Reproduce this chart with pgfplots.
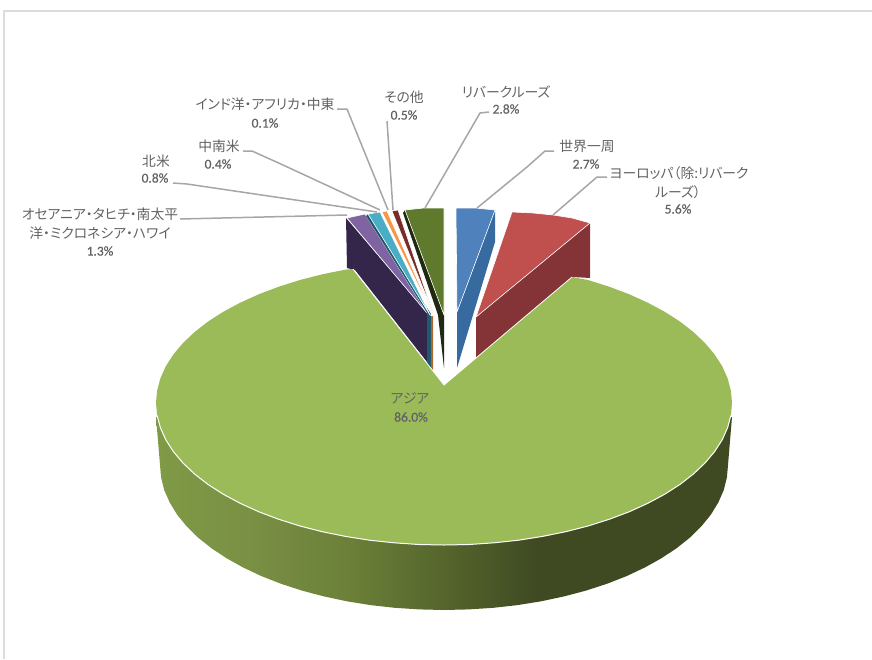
\documentclass[border=0pt]{standalone}
\usepackage{fontspec}
\usepackage{pgfplots}
\pgfplotsset{compat=1.18}
\newfontfamily\jp[RawFeature={+palt}]{Noto Sans CJK JP}
\newfontfamily\num[FakeBold=0.6]{Carlito}
\definecolor{txt}{HTML}{626262}
\definecolor{lead}{HTML}{A6A6A6}
\definecolor{framec}{HTML}{DCDCDC}
\definecolor{asia}{HTML}{9BBB59}
\definecolor{sideA}{HTML}{7F9A46}
\definecolor{sideB}{HTML}{7A9044}
\definecolor{sideC}{HTML}{6B7F38}
\definecolor{sideD}{HTML}{55652C}
\definecolor{sideE}{HTML}{3F4A22}
\definecolor{blueT}{HTML}{4F81BD}
\definecolor{blueW}{HTML}{376A9E}
\definecolor{redT}{HTML}{C0504D}
\definecolor{redW}{HTML}{843436}
\definecolor{oliveT}{HTML}{5F7A2D}
\definecolor{oliveW}{HTML}{1F2A10}
\definecolor{purpT}{HTML}{8064A2}
\definecolor{purpW}{HTML}{33264A}
\definecolor{tealT}{HTML}{4BACC6}
\definecolor{tealW}{HTML}{1F5A6E}
\definecolor{orT}{HTML}{F79646}
\definecolor{orW}{HTML}{B06828}
\definecolor{marT}{HTML}{772C2A}
\pgfdeclarehorizontalshading{pieside}{100bp}{
  color(0bp)=(sideA); color(25bp)=(sideA); color(33bp)=(sideB);
  color(42bp)=(sideC); color(50bp)=(sideD); color(58bp)=(sideE);
  color(75bp)=(sideE); color(100bp)=(sideE)}
\newcommand{\lbl}[3]{\node[text=txt,inner sep=0pt,anchor=center] at (axis cs:#1,#2) {\jp\fontsize{13.8}{15}\selectfont #3};}
\newcommand{\pct}[3]{\node[text=txt,inner sep=0pt,anchor=center] at (axis cs:#1,#2) {\num\fontsize{13.5}{14}\selectfont #3};}
\begin{document}
\begin{tikzpicture}
\begin{axis}[
  scale only axis, width=872pt, height=659pt,
  xmin=0, xmax=872, ymin=0, ymax=659, y dir=reverse,
  hide axis, enlargelimits=false,
  every axis plot/.append style={no markers, line join=round},
  face/.style={fill=#1, draw=white, line width=0.6pt},
  wall/.style={fill=#1, draw=none},
  leader/.style={draw=lead, line width=1.5pt},
]
% page extent
\addplot[draw=white, line width=0.2pt] coordinates {(0,0) (872,0) (872,659) (0,659) (0,0)};
% frame
\addplot[draw=framec, line width=1.5pt] coordinates {(872,11) (4,11) (4,659)};

% inner walls of the exploded slices
\addplot[wall=blueW] coordinates {(495,210) (495,242) (457,368) (457,312) (495,210)};
\addplot[wall=redW] coordinates {(590,223) (590,278) (573,277) (476,360) (476,317) (590,223)};
\addplot[wall=oliveW] coordinates {(403,213) (438,315) (444,368) (444,315) (405,210) (403,213)};
\addplot[wall=purpW] coordinates {(346,218) (347,268) (355,270) (427,362) (427,313) (346,218)};
\addplot[wall=tealW] coordinates {(427,313) (431,316) (431,368) (427,364) (427,313)};
\addplot[wall=orW] coordinates {(431,316) (433,316) (433,370) (431,368) (431,316)};

% top faces
\addplot[face=blueT] coordinates {(456,208) (475,208) (495,210) (457,312) (456,208)};
\addplot[face=redT] coordinates {(512,212) (533,213) (553,215) (572,218) (590,223) (476,317) (512,212)};
\addplot[face=oliveT] coordinates {(405,210) (424,208) (444,208) (444,315) (405,210)};
\addplot[face=purpT] coordinates {(347,218) (356,216) (365,214) (427,313) (347,218)};
\addplot[wall=tealW] coordinates {(366,216) (368,214) (431,314) (429,316) (366,216)};
\addplot[face=tealT] coordinates {(368,214) (374,213) (380,212) (430,315) (368,214)};
\addplot[face=orT] coordinates {(382,212) (387,211) (432,313) (382,212)};
\addplot[face=marT] coordinates {(392,211) (398,210) (433,313) (392,211)};

% Asia: side
\addplot[shade, shading=pieside, draw=none] coordinates {
  (732,417) (728,465) (726.9,477.6) (723.7,490.2) (718.3,502.5) (710.9,514.6) (701.4,526.3)
  (690,537.5) (676.6,548.2) (661.5,558.2) (644.8,567.5) (626.6,576.1) (606.9,583.8) (586,590.6)
  (564,596.4) (541.1,601.3) (517.5,605.1) (493.3,607.8) (468.8,609.4) (444,610) (419.2,609.4)
  (394.7,607.8) (370.5,605.1) (346.9,601.3) (324,596.4) (302,590.6) (281.1,583.8) (261.4,576.1)
  (243.2,567.5) (226.5,558.2) (211.4,548.2) (198,537.5) (186.6,526.3) (177.1,514.6) (169.7,502.5)
  (164.3,490.2) (161.1,477.6) (160,465) (156,417) (732,417)};

% Asia: top
\addplot[fill=asia, draw=none] coordinates {
  (444,385) (572,277) (588,280) (609.2,286.7) (629.1,294.2) (647.6,302.6) (664.6,311.7)
  (679.9,321.5) (693.4,332) (705,343) (714.6,354.4) (722.2,366.2) (727.6,378.3) (730.9,390.6)
  (732,403) (730.9,415.4) (727.6,427.7) (722.2,439.8) (714.6,451.6) (705,463) (693.4,474)
  (679.9,484.5) (664.6,494.3) (647.6,503.4) (629.1,511.8) (609.2,519.3) (588,526) (565.7,531.7)
  (542.5,536.4) (518.5,540.2) (494,542.8) (469.1,544.5) (444,545) (418.9,544.5) (394,542.8)
  (369.5,540.2) (345.5,536.4) (322.3,531.7) (300,526) (278.8,519.3) (258.9,511.8) (240.4,503.4)
  (223.4,494.3) (208.1,484.5) (194.6,474) (183,463) (173.4,451.6) (165.8,439.8) (160.4,427.7)
  (157.1,415.4) (156,403) (157.1,390.6) (160.4,378.3) (165.8,366.2) (173.4,354.4) (183,343)
  (194.6,332) (208.1,321.5) (223.4,311.7) (240.4,302.6) (258.9,294.2) (278.8,286.7) (300,280)
  (322.3,274.3) (345.5,269.6) (353,269) (444,385)};
% white rim on the front and on the cut edges
\addplot[draw=white, line width=1pt] coordinates {
  (730.9,415.4) (727.6,427.7) (722.2,439.8) (714.6,451.6) (705,463) (693.4,474)
  (679.9,484.5) (664.6,494.3) (647.6,503.4) (629.1,511.8) (609.2,519.3) (588,526) (565.7,531.7)
  (542.5,536.4) (518.5,540.2) (494,542.8) (469.1,544.5) (444,545) (418.9,544.5) (394,542.8)
  (369.5,540.2) (345.5,536.4) (322.3,531.7) (300,526) (278.8,519.3) (258.9,511.8) (240.4,503.4)
  (223.4,494.3) (208.1,484.5) (194.6,474) (183,463) (173.4,451.6) (165.8,439.8) (160.4,427.7)
  (157.1,415.4)};
\addplot[draw=white, line width=0.8pt] coordinates {(572,277) (444,385) (353,269)};

% leader lines
\addplot[leader] coordinates {(337,109) (347,109) (388,210)};
\addplot[leader] coordinates {(243,151) (252,151) (283,165) (380,210)};
\addplot[leader] coordinates {(173,183) (187,184) (377,212)};
\addplot[leader] coordinates {(180,219) (347,215)};
\addplot[leader] coordinates {(387,121) (393,210)};
\addplot[leader] coordinates {(489,112) (480,113) (425,208)};
\addplot[leader] coordinates {(554,151) (545,151) (527,167) (477,208)};
\addplot[leader] coordinates {(607,177) (597,177) (553,215)};

% labels
\lbl{265}{104}{インド洋・アフリカ・中東}
\pct{265}{123}{0.1\%}
\lbl{219}{146}{中南米}
\pct{218}{164}{0.4\%}
\lbl{156}{161}{北米}
\pct{155}{178}{0.8\%}
\lbl{100}{214}{オセアニア・タヒチ・南太平}
\lbl{100}{233}{洋・ミクロネシア・ハワイ}
\pct{100}{251}{1.3\%}
\lbl{404}{97}{その他}
\pct{404}{115}{0.5\%}
\lbl{506}{92}{リバークルーズ}
\pct{506}{109}{2.8\%}
\lbl{587}{146}{世界一周}
\pct{586}{164}{2.7\%}
\lbl{679}{173}{ヨーロッパ（除:リバーク}
\lbl{678}{192}{ルーズ）}
\pct{678}{209}{5.6\%}
\lbl{410}{398}{アジア}
\pct{411}{417}{86.0\%}
\end{axis}
\end{tikzpicture}
\end{document}
